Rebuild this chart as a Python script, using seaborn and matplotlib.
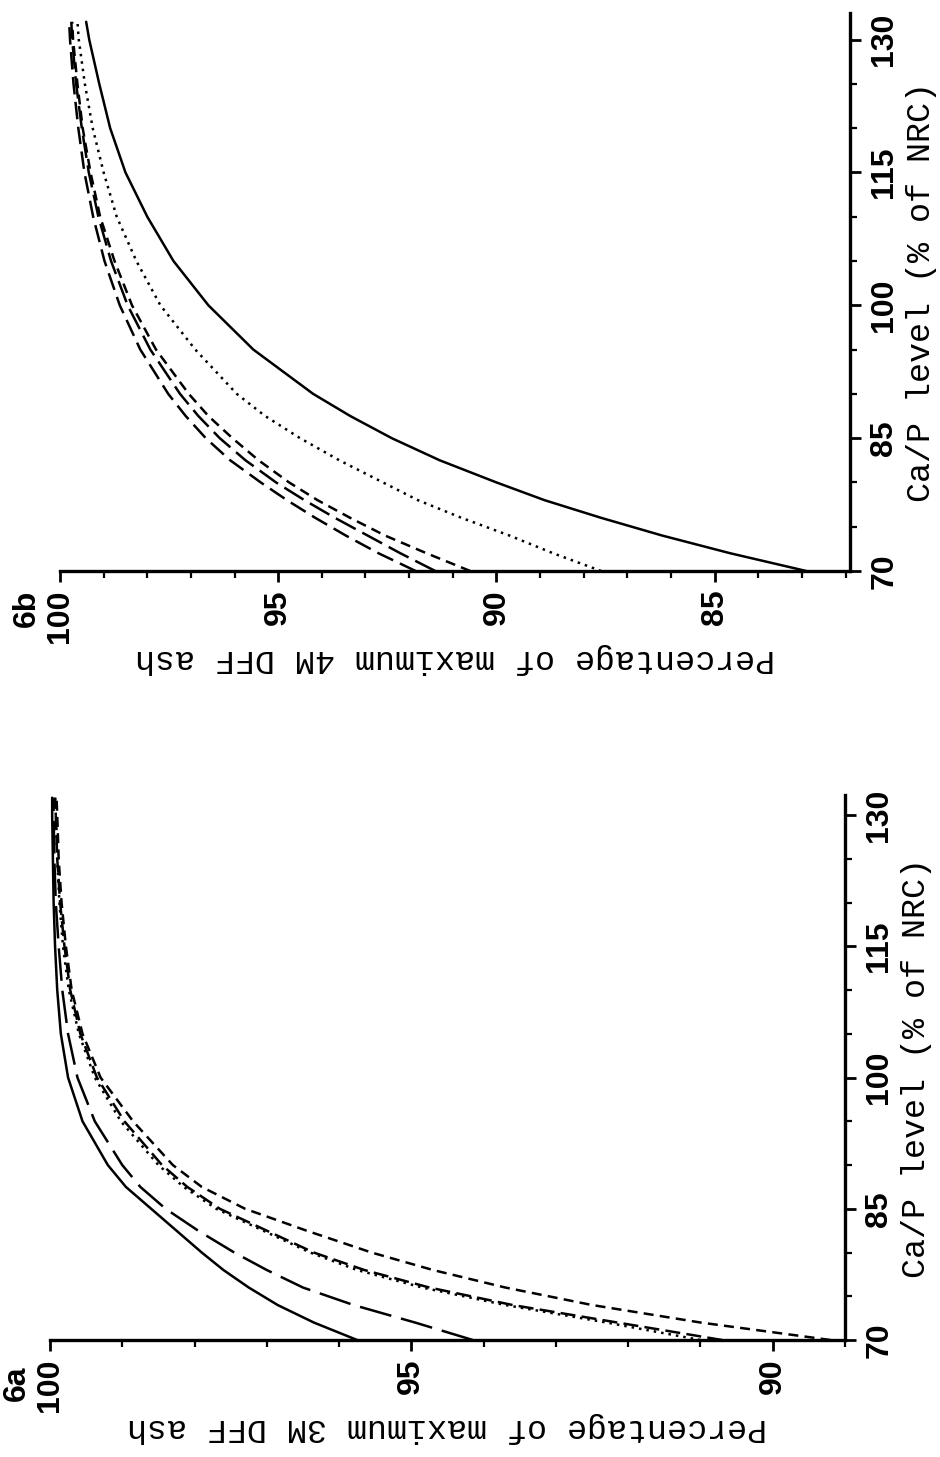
import pandas as pd
import matplotlib
matplotlib.use("Agg")
import matplotlib.pyplot as plt
from matplotlib.ticker import MultipleLocator
import seaborn as sns

# Ca/P levels (% of NRC) where the curves were read
CAP_LEVELS = [70, 72, 74, 76, 78, 80, 82.5, 85, 87.5, 90, 95, 100, 105, 110, 115, 120, 125, 130, 132]
CAP_TICKS = [70, 85, 100, 115, 130]

# Panel 6a: percentage of maximum 3M DFF ash
A_SOLID = [95.75, 96.35, 96.85, 97.25, 97.6, 97.9, 98.25, 98.6, 98.95, 99.2, 99.55, 99.75, 99.85, 99.9, 99.93, 99.95, 99.96, 99.97, 99.97]
A_LONGDASH = [94.15, 94.95, 95.8, 96.5, 97.0, 97.45, 97.95, 98.4, 98.75, 99.0, 99.38, 99.62, 99.75, 99.83, 99.88, 99.92, 99.94, 99.95, 99.95]
A_DOTTED = [91.0, 92.3, 93.7, 94.85, 95.75, 96.4, 97.05, 97.7, 98.15, 98.5, 99.02, 99.38, 99.6, 99.74, 99.82, 99.87, 99.9, 99.92, 99.93]
A_DASH = [90.7, 92.15, 93.6, 94.75, 95.65, 96.35, 97.0, 97.65, 98.1, 98.45, 98.97, 99.35, 99.58, 99.72, 99.8, 99.86, 99.9, 99.92, 99.93]
A_SHORTDASH = [89.2, 91.0, 92.5, 93.7, 94.7, 95.55, 96.45, 97.3, 97.9, 98.3, 98.85, 99.3, 99.55, 99.7, 99.78, 99.84, 99.88, 99.9, 99.91]
A_PCT_TICKS = [100, 95, 90]

# Panel 6b: percentage of maximum 4M DFF ash
B_SOLID = [82.9, 84.64, 86.2, 87.6, 88.9, 90.0, 91.3, 92.4, 93.35, 94.2, 95.57, 96.6, 97.4, 98.0, 98.5, 98.85, 99.1, 99.33, 99.4]
B_DOTTED = [87.6, 88.7, 89.7, 90.8, 91.8, 92.6, 93.6, 94.5, 95.3, 95.95, 96.9, 97.7, 98.25, 98.7, 99.0, 99.25, 99.43, 99.57, 99.6]
B_SHORTDASH = [90.6, 91.6, 92.55, 93.35, 94.1, 94.75, 95.45, 96.05, 96.6, 97.05, 97.8, 98.35, 98.75, 99.08, 99.3, 99.48, 99.6, 99.7, 99.72]
B_LONGDASH2 = [91.4, 92.2, 92.95, 93.7, 94.4, 95.05, 95.75, 96.34, 96.83, 97.25, 97.93, 98.45, 98.83, 99.12, 99.34, 99.5, 99.63, 99.72, 99.74]
B_LONGDASH1 = [91.85, 92.7, 93.45, 94.15, 94.8, 95.4, 96.1, 96.66, 97.12, 97.52, 98.16, 98.63, 98.98, 99.24, 99.44, 99.58, 99.69, 99.77, 99.79]
B_PCT_TICKS = [100, 95, 90, 85]

TICK_FONT = {"family": "Liberation Sans", "weight": "bold", "size": 23}
LABEL_FONT = {"family": "Liberation Mono", "size": 24}


def build_frame(curves):
    """Stack the curves of one panel into a long table for seaborn"""
    parts = [pd.DataFrame({"curve": name, "pct": vals, "cap": CAP_LEVELS}) for name, vals in curves.items()]
    return pd.concat(parts, ignore_index=True)


def draw_panel(ax, df, dashes, xlim, ylim, pct_ticks, xlabel):
    sns.lineplot(data=df, x="pct", y="cap", style="curve", dashes=dashes, color="black",
                 linewidth=1.8, sort=False, estimator=None, legend=False, ax=ax)
    ax.set_xlim(*xlim)
    ax.set_ylim(*ylim)
    for side in ["top", "left"]:
        ax.spines[side].set_visible(False)
    for side in ["bottom", "right"]:
        ax.spines[side].set_linewidth(2.4)
        ax.spines[side].set_color("black")
    ax.yaxis.tick_right()
    ax.yaxis.set_label_position("right")

    ax.set_xticks(pct_ticks)
    ax.xaxis.set_minor_locator(MultipleLocator(1))
    ax.set_xticklabels([str(t) for t in pct_ticks], rotation=90, **TICK_FONT)
    ax.set_yticks(CAP_TICKS)
    ax.yaxis.set_minor_locator(MultipleLocator(5))
    ax.set_yticklabels([str(t) for t in CAP_TICKS], rotation=90, va="center", **TICK_FONT)

    ax.tick_params(which="major", direction="out", length=8, width=2, color="black",
                   labelcolor="black", pad=5)
    ax.tick_params(which="minor", direction="out", length=5, width=1.6, color="black")
    ax.tick_params(axis="y", which="major", pad=6)

    ax.set_xlabel(xlabel, rotation=180, labelpad=0, color="black", **LABEL_FONT)
    ax.set_ylabel("Ca/P level (% of NRC)", rotation=90, labelpad=5, color="black", **LABEL_FONT)


if __name__ == "__main__":
    sns.set_theme(style="ticks")
    plt.rcParams["font.family"] = ["Liberation Sans", "DejaVu Sans"]
    plt.rcParams["text.color"] = "black"

    fig = plt.figure(figsize=(9.4, 14.57), dpi=100)

    # Panel 6b (upper)
    ax_b = fig.add_axes([0.0638, 0.6081, 0.8404, 0.383])
    df_b = build_frame({"solid": B_SOLID, "dotted": B_DOTTED, "short": B_SHORTDASH,
                        "long2": B_LONGDASH2, "long1": B_LONGDASH1})
    dashes_b = {"solid": "", "dotted": (1, 2), "short": (4, 2.5), "long2": (9, 3), "long1": (7, 3)}
    draw_panel(ax_b, df_b, dashes_b, (100, 81.9), (70, 133), B_PCT_TICKS,
               "Percentage of maximum 4M DFF ash")

    # Panel 6a (lower)
    ax_a = fig.add_axes([0.0532, 0.0803, 0.8457, 0.374])
    df_a = build_frame({"solid": A_SOLID, "long": A_LONGDASH, "dotted": A_DOTTED,
                        "dash": A_DASH, "short": A_SHORTDASH})
    dashes_a = {"solid": "", "long": (13, 4), "dotted": (1, 2), "dash": (6, 2.5), "short": (4, 2.5)}
    draw_panel(ax_a, df_a, dashes_a, (100, 89.0), (70, 132.3), A_PCT_TICKS,
               "Percentage of maximum 3M DFF ash")

    fig.text(27 / 940, 1 - 608 / 1457, "6b", rotation=90, ha="center", va="center", **TICK_FONT)
    fig.text(17 / 940, 1 - 1383 / 1457, "6a", rotation=90, ha="center", va="center", **TICK_FONT)

    fig.savefig("out.png", dpi=100)
